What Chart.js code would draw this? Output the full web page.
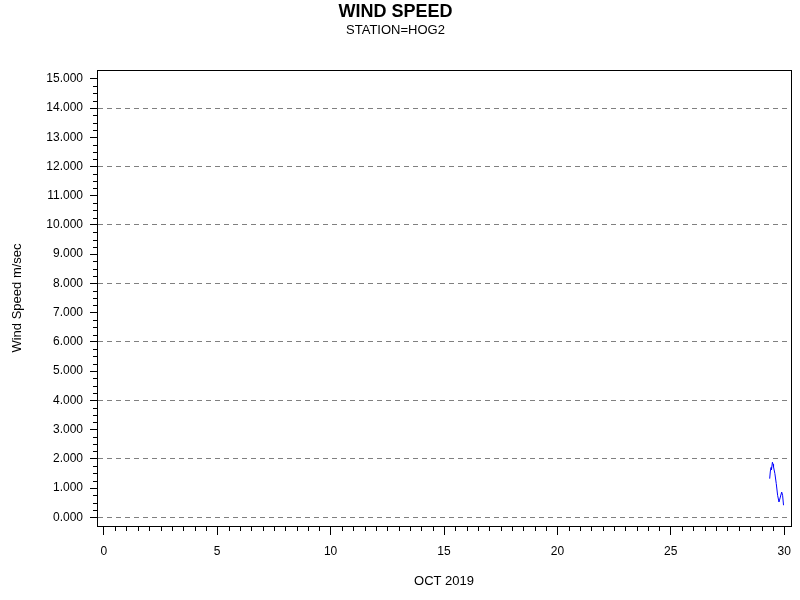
<!DOCTYPE html>
<html><head><meta charset="utf-8">
<script src="https://cdn.jsdelivr.net/npm/chart.js@4/dist/chart.umd.min.js"></script>
<style>html,body{margin:0;padding:0;background:#fff}#wrap{width:800px;height:600px}</style>
</head><body><div id="wrap"><canvas id="c" width="800" height="600"></canvas></div>
<script>
const days = [29.36, 29.39, 29.42, 29.44, 29.48, 29.51, 29.53, 29.59, 29.65, 29.71, 29.77, 29.83, 29.89, 29.93, 29.97];
const speeds = [1.32, 1.58, 1.70, 1.63, 1.88, 1.81, 1.72, 1.49, 1.15, 0.75, 0.52, 0.69, 0.86, 0.75, 0.41];
const xTicks = [0, 5, 10, 15, 20, 25, 30];
const yTicks = [0, 1, 2, 3, 4, 5, 6, 7, 8, 9, 10, 11, 12, 13, 14, 15];
const titleText = 'WIND SPEED';
const subtitleText = 'STATION=HOG2';
const xTitle = 'OCT 2019';
const yTitle = 'Wind Speed m/sec';

const FONT = "Arial, 'Liberation Sans', sans-serif";

const framePlugin = {
  id: 'frame',
  afterDraw(chart) {
    const {ctx, chartArea: a, scales: {x, y}} = chart;
    ctx.save();
    ctx.strokeStyle = '#000';
    ctx.lineWidth = 1;
    ctx.strokeRect(Math.round(a.left) + 0.5, Math.round(a.top) + 0.5, Math.round(a.right - a.left), Math.round(a.bottom - a.top));
    ctx.beginPath();
    for (let v = 0; v <= 15.0001; v += 0.25) {
      if (Math.abs(v - Math.round(v)) < 1e-6) continue;
      const py = Math.round(y.getPixelForValue(v)) + 0.5;
      ctx.moveTo(a.left, py); ctx.lineTo(a.left - 4, py);
    }
    for (let v = 0; v <= 30.0001; v += 0.5) {
      if (Math.abs(v / 5 - Math.round(v / 5)) < 1e-6) continue;
      const px = Math.round(x.getPixelForValue(v)) + 0.5;
      ctx.moveTo(px, a.bottom); ctx.lineTo(px, a.bottom + 5);
    }
    ctx.stroke();
    ctx.restore();
  }
};

new Chart(document.getElementById('c'), {
  type: 'line',
  data: {
    datasets: [{
      data: days.map((d, i) => ({x: d, y: speeds[i]})),
      borderColor: '#0000ff',
      borderWidth: 1,
      pointRadius: 0,
      tension: 0,
      fill: false
    }]
  },
  options: {
    responsive: false,
    animation: false,
    devicePixelRatio: 1,
    layout: {padding: {left: 0, right: 9, top: 0, bottom: 0}},
    plugins: {
      legend: {display: false},
      tooltip: {enabled: false},
      title: {display: true, text: titleText, color: '#000', font: {family: FONT, size: 18, weight: 'bold'}, padding: {top: 1, bottom: 0}},
      subtitle: {display: true, text: subtitleText, color: '#000', font: {family: FONT, size: 13}, padding: {top: 0, bottom: 31.8}}
    },
    scales: {
      x: {
        type: 'linear', min: -0.3, max: 30.3,
        afterBuildTicks: s => { s.ticks = xTicks.map(v => ({value: v})); },
        afterFit: s => { s.height = 74; },
        ticks: {color: '#000', font: {family: FONT, size: 12}, padding: 9, maxRotation: 0, autoSkip: false},
        grid: {drawOnChartArea: false, tickLength: 9, tickColor: '#000', tickWidth: 1},
        border: {display: true, color: '#000', width: 1},
        title: {display: true, text: xTitle, color: '#000', font: {family: FONT, size: 13}, padding: {top: 0, bottom: 11}}
      },
      y: {
        type: 'linear', min: -0.3, max: 15.3,
        afterBuildTicks: s => { s.ticks = yTicks.map(v => ({value: v})); },
        afterFit: s => { s.width = 97; },
        ticks: {color: '#000', font: {family: FONT, size: 12}, padding: 7, autoSkip: false, callback: v => Number(v).toFixed(3)},
        grid: {
          drawOnChartArea: true, tickLength: 7, tickColor: '#000', tickWidth: 1, lineWidth: 1,
          color: ctx => (ctx.tick && ctx.tick.value % 2 === 0) ? '#808080' : 'rgba(0,0,0,0)'
        },
        border: {display: true, color: '#000', width: 1, dash: [5, 4]},
        title: {display: true, text: yTitle, color: '#000', font: {family: FONT, size: 13}, padding: {top: 10, bottom: 0}}
      }
    }
  },
  plugins: [framePlugin]
});
</script>
</body></html>
